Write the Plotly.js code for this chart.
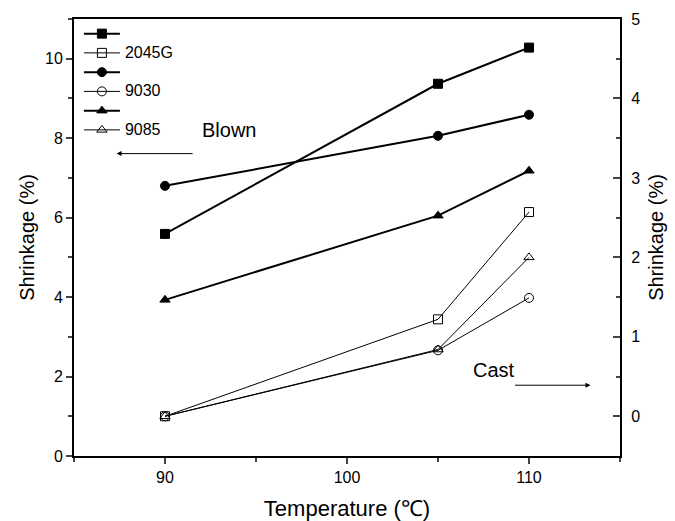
<!DOCTYPE html>
<html><head><meta charset="utf-8">
<script src="https://cdn.plot.ly/plotly-3.0.1.min.js"></script>
<style>body{margin:0;background:#fff}#c{width:675px;height:521px}</style>
</head><body><div id="c"></div>
<script>
const temps = [90, 105, 110];
const blown2045G = [5.59, 9.37, 10.28];
const blown9030 = [6.80, 8.06, 8.59];
const blown9085 = [3.93, 6.05, 7.18];
const cast2045G = [0.0, 1.22, 2.57];
const cast9030 = [0.0, 0.83, 1.49];
const cast9085 = [0.0, 0.84, 2.00];
const legendNames = [" ", "2045G", " ", "9030", " ", "9085"];

function tr(y, name, sym, axis, w) {
  return {x: temps, y: y, name: '<span style="font-size:16px">' + name + '</span>', yaxis: axis,
    type: 'scatter', mode: 'lines+markers',
    line: {color: '#000', width: w},
    marker: {symbol: sym, size: 9, color: '#000', line: {color: '#000', width: 1}}};
}
const data = [
  tr(blown2045G, legendNames[0], 'square', 'y', 2),
  tr(cast2045G, legendNames[1], 'square-open', 'y2', 1),
  tr(blown9030, legendNames[2], 'circle', 'y', 2),
  tr(cast9030, legendNames[3], 'circle-open', 'y2', 1),
  tr(blown9085, legendNames[4], 'triangle-up', 'y', 2),
  tr(cast9085, legendNames[5], 'triangle-up-open', 'y2', 1)
];
const fnt = {family: 'Arial, Liberation Sans, sans-serif', color: '#000'};
const layout = {
  width: 675, height: 521,
  margin: {l: 74, r: 55, t: 19, b: 65},
  paper_bgcolor: '#fff', plot_bgcolor: '#fff',
  showlegend: true,
  legend: {x: 0.009, y: 1.0, xanchor: 'left', yanchor: 'top', bgcolor: 'rgba(0,0,0,0)',
    font: Object.assign({size: 12.5}, fnt), tracegroupgap: 0, itemwidth: 36},
  xaxis: {range: [85, 115], tickvals: [90, 100, 110], ticks: 'outside', ticklen: 6, tickwidth: 1.5,
    minor: {tickvals: [85, 95, 105, 115], ticks: 'outside', ticklen: 4, tickwidth: 1.5},
    showline: true, linewidth: 2, linecolor: '#000', mirror: true, showgrid: false, zeroline: false,
    tickfont: Object.assign({size: 16}, fnt),
    title: {text: 'Temperature (℃)', font: Object.assign({size: 22}, fnt), standoff: 17}},
  yaxis: {range: [0, 11], tickvals: [0, 2, 4, 6, 8, 10], ticks: 'outside', ticklen: 6, tickwidth: 1.5,
    minor: {tickvals: [1, 3, 5, 7, 9, 11], ticks: 'outside', ticklen: 4, tickwidth: 1.5},
    showline: true, linewidth: 2, linecolor: '#000', showgrid: false, zeroline: false,
    tickfont: Object.assign({size: 16}, fnt),
    title: {text: 'Shrinkage (%)', font: Object.assign({size: 20}, fnt), standoff: 5}},
  yaxis2: {range: [-0.5, 5], overlaying: 'y', side: 'right', tickvals: [0, 1, 2, 3, 4, 5],
    ticks: 'inside', ticklen: 7, tickwidth: 1.5, ticklabelstandoff: 6,
    minor: {tickvals: [0.5, 1.5, 2.5, 3.5, 4.5], ticks: 'inside', ticklen: 4, tickwidth: 1.5},
    showline: true, linewidth: 2, linecolor: '#000', showgrid: false, zeroline: false,
    tickfont: Object.assign({size: 16}, fnt),
    title: {text: 'Shrinkage (%)', font: Object.assign({size: 20}, fnt), standoff: 10}},
  annotations: [
    {x: 0.23, y: 0.745, xref: 'paper', yref: 'paper', text: 'Blown', showarrow: false,
      xanchor: 'left', yanchor: 'middle', font: Object.assign({size: 20}, fnt)},
    {x: 0.078, y: 0.692, ax: 0.22, ay: 0.692, xref: 'paper', yref: 'paper', axref: 'paper', ayref: 'paper',
      text: '', showarrow: true, arrowhead: 2, arrowsize: 1, arrowwidth: 1, arrowcolor: '#000'},
    {x: 0.728, y: 0.196, xref: 'paper', yref: 'paper', text: 'Cast', showarrow: false,
      xanchor: 'left', yanchor: 'middle', font: Object.assign({size: 20}, fnt)},
    {x: 0.946, y: 0.162, ax: 0.805, ay: 0.162, xref: 'paper', yref: 'paper', axref: 'paper', ayref: 'paper',
      text: '', showarrow: true, arrowhead: 2, arrowsize: 1, arrowwidth: 1, arrowcolor: '#000'}
  ]
};
Plotly.newPlot('c', data, layout, {displayModeBar: false});
</script></body></html>
